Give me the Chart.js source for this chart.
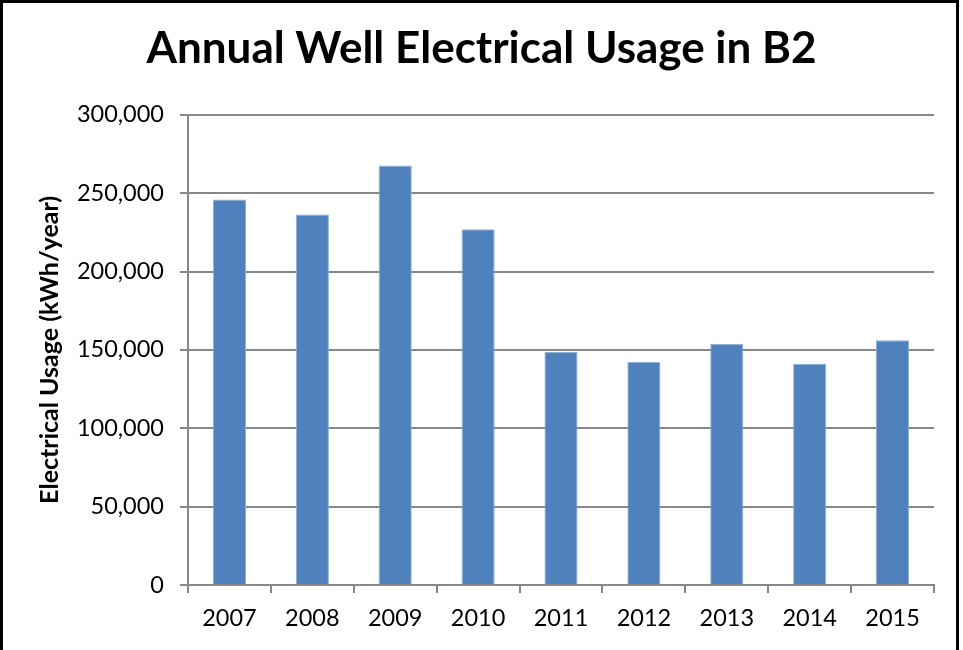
<!DOCTYPE html>
<html>
<head>
<meta charset="utf-8">
<script src="https://cdn.jsdelivr.net/npm/chart.js@4.4.1/dist/chart.umd.min.js"></script>
<style>
  html, body { margin: 0; padding: 0; background: #fff; }
  #wrap { position: relative; width: 963px; height: 650px; overflow: hidden; }
  #frame { position: absolute; left: 0; top: 0; width: 953px; height: 700px; border: 3px solid #000; pointer-events: none; }
</style>
</head>
<body>
<div id="wrap">
  <canvas id="usageChart"></canvas>
  <div id="frame"></div>
</div>
<script>
const years = ['2007', '2008', '2009', '2010', '2011', '2012', '2013', '2014', '2015'];
const usage = [246000, 236400, 267700, 226900, 148700, 142500, 153800, 141100, 156200];
const yTicks = [0, 50000, 100000, 150000, 200000, 250000, 300000];

const gridGrey = '#878787';
const fontFamily = 'Lato, "Open Sans", sans-serif';

const ctx = document.getElementById('usageChart').getContext('2d');
const usageChart = new Chart(ctx, {
    type: 'bar',
    data: {
        labels: years,
        datasets: [{
            label: 'Electrical Usage',
            data: usage,
            backgroundColor: '#4f81bd',
            borderColor: '#8fb0d9',
            borderWidth: { top: 1, left: 1, right: 1, bottom: 0 },
            barPercentage: 0.4,
            categoryPercentage: 1.0
        }]
    },
    options: {
        responsive: true,
        maintainAspectRatio: false,
        animation: false,
        layout: { padding: { left: 29, right: 29, top: 20, bottom: 0 } },
        plugins: {
            legend: { display: false },
            tooltip: { enabled: false },
            title: {
                display: true,
                text: 'Annual Well Electrical Usage in B2',
                color: '#000',
                font: { family: fontFamily, size: 44, weight: 'bold' },
                padding: { top: 2, bottom: 40 }
            }
        },
        scales: {
            x: {
                offset: true,
                grid: { display: true, offset: true, drawOnChartArea: false, color: gridGrey, lineWidth: 2, tickLength: 8 },
                border: { display: true, color: gridGrey, width: 2 },
                ticks: { color: '#000', font: { family: fontFamily, size: 23.5 }, padding: 11 },
                afterFit: s => { s.height = 65; }
            },
            y: {
                min: 0,
                max: 300000,
                afterBuildTicks: s => { s.ticks = yTicks.map(v => ({ value: v })); },
                grid: { color: gridGrey, lineWidth: 2, tickLength: 8 },
                border: { display: true, color: gridGrey, width: 2 },
                ticks: {
                    color: '#000',
                    font: { family: fontFamily, size: 23.5 },
                    padding: 16,
                    callback: v => v.toLocaleString('en-US')
                },
                title: {
                    display: true,
                    text: 'Electrical Usage (kWh/year)',
                    color: '#000',
                    font: { family: fontFamily, size: 25, weight: 'bold' },
                    padding: { top: 6, bottom: 6 }
                },
                afterFit: s => { s.width = 159; }
            }
        }
    }
});
</script>
</body>
</html>
